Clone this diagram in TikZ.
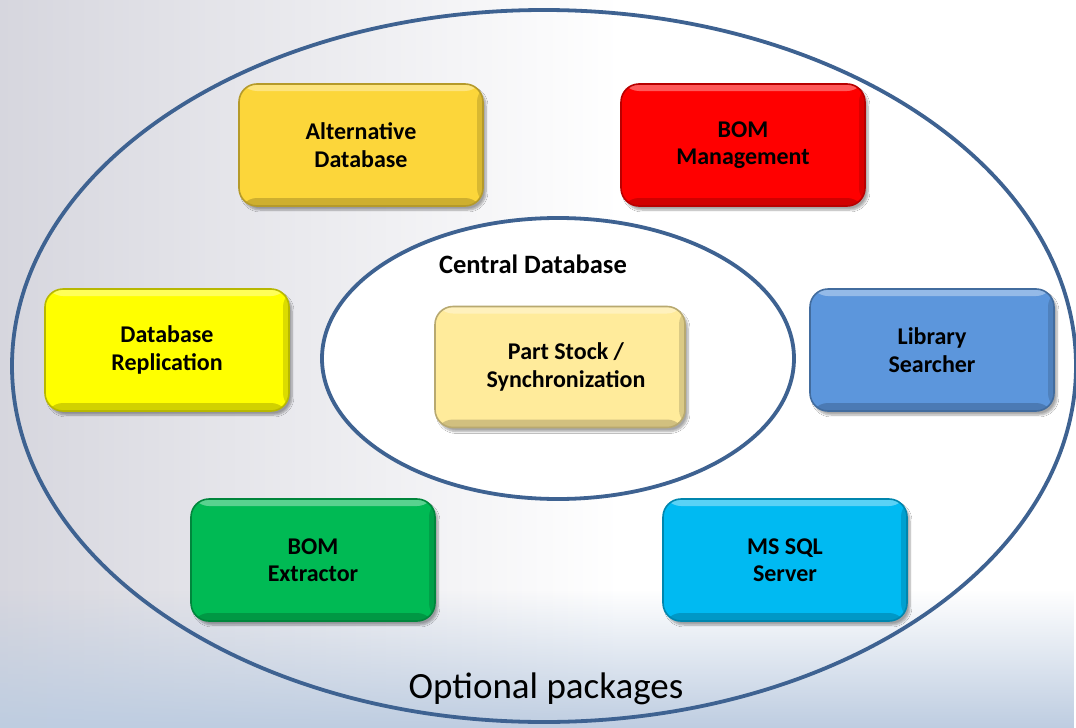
\documentclass[tikz,border=0pt]{standalone}
\usepackage{fontspec}
\setmainfont{Carlito}
\usetikzlibrary{shapes.geometric,shadows.blur,fadings}
\definecolor{ringblue}{RGB}{62,98,145}
\definecolor{cAlt}{RGB}{252,214,58}
\definecolor{cBom}{RGB}{255,0,0}
\definecolor{cRep}{RGB}{255,255,0}
\definecolor{cLib}{RGB}{92,150,220}
\definecolor{cPart}{RGB}{255,235,155}
\definecolor{cExt}{RGB}{0,186,84}
\definecolor{cSql}{RGB}{0,186,242}
\definecolor{bgGray}{RGB}{214,214,222}
\definecolor{bgBlue}{RGB}{190,205,225}
\tikzset{
  pbox/.style={rectangle, rounded corners=18pt, minimum width=244pt, minimum height=122pt,
    inner sep=0pt, align=center, fill=#1, draw=#1!72!black, line width=1.6pt,
    font=\fontsize{24}{27.5}\selectfont\bfseries, text=black,
    blur shadow={shadow xshift=3pt, shadow yshift=-4pt, shadow blur steps=8, shadow opacity=35},
    path picture={
      \fill[#1!60!black, opacity=0.45] ([yshift=8pt]path picture bounding box.south west) rectangle (path picture bounding box.south east);
      \fill[#1!60!black, opacity=0.35] ([xshift=-6pt]path picture bounding box.north east) rectangle (path picture bounding box.south east);
      \fill[white, opacity=0.35] ([yshift=-7pt]path picture bounding box.north west) rectangle (path picture bounding box.north east);
    }},
  ring/.style={ellipse, draw=ringblue, line width=3.8pt, inner sep=0pt},
  lbl/.style={inner sep=0pt, text=black}
}
\begin{document}
\begin{tikzpicture}[x=1pt,y=-1pt]
\useasboundingbox (0,0) rectangle (1076,728);
% background
\fill[white] (0,0) rectangle (1076,728);
\shade[left color=bgGray, right color=white] (0,0) rectangle (620,728);
\fill[bgBlue, path fading=north] (0,590) rectangle (1076,728);
% rings
\node[ring, minimum width=1064pt, minimum height=712pt] (outer) at (544,366) {};
\node[ring, fill=white, minimum width=472pt, minimum height=281pt] (inner) at (558,358.5) {};
\node[lbl, font=\fontsize{26.5}{30}\selectfont\bfseries] (central) at (533,264) {Central Database};
\node[lbl, font=\fontsize{37}{42}\selectfont] (optional) at (546,689) {Optional packages};
% boxes
\node[pbox=cAlt] (alt) at (361,145) {Alternative\\Database};
\node[pbox=cBom] (bom) at (743,145) {BOM\\Management};
\node[pbox=cRep] (rep) at (167,350) {Database\\Replication};
\node[pbox=cLib] (lib) at (932,350) {Library\\Searcher};
\node[pbox=cPart, minimum width=250pt, minimum height=121pt] (part) at (560,367) {\hspace*{12pt}Part Stock /\\\hspace*{12pt}Synchronization};
\node[pbox=cExt] (ext) at (313,560) {BOM\\Extractor};
\node[pbox=cSql] (sql) at (785,560) {MS SQL\\Server};
\end{tikzpicture}
\end{document}
